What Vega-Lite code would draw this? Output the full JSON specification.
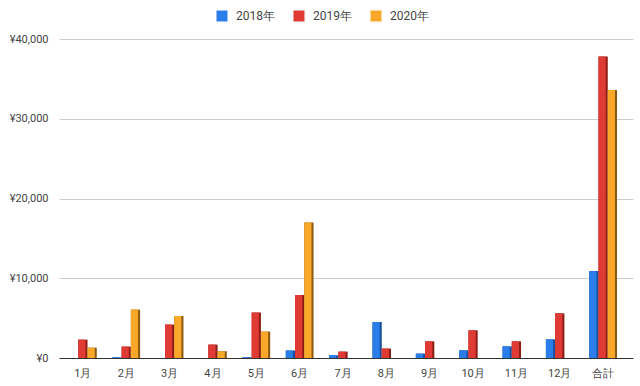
{
  "$schema": "https://vega.github.io/schema/vega-lite/v6.json",
  "width": 574,
  "height": 319,
  "autosize": {"type": "none"},
  "padding": {"left": 59, "top": 39, "right": 7, "bottom": 28},
  "background": "white",
  "config": {
    "font": "Roboto",
    "view": {"stroke": null}
  },
  "data": {
    "values": [
      {"month": "1月", "year": "2019年", "value": 2300},
      {"month": "1月", "year": "2020年", "value": 1300},
      {"month": "2月", "year": "2018年", "value": 80},
      {"month": "2月", "year": "2019年", "value": 1430},
      {"month": "2月", "year": "2020年", "value": 6070},
      {"month": "3月", "year": "2019年", "value": 4190},
      {"month": "3月", "year": "2020年", "value": 5270},
      {"month": "4月", "year": "2019年", "value": 1680},
      {"month": "4月", "year": "2020年", "value": 840},
      {"month": "5月", "year": "2018年", "value": 80},
      {"month": "5月", "year": "2019年", "value": 5690},
      {"month": "5月", "year": "2020年", "value": 3310},
      {"month": "6月", "year": "2018年", "value": 930},
      {"month": "6月", "year": "2019年", "value": 7900},
      {"month": "6月", "year": "2020年", "value": 16980},
      {"month": "7月", "year": "2018年", "value": 340},
      {"month": "7月", "year": "2019年", "value": 800},
      {"month": "8月", "year": "2018年", "value": 4510},
      {"month": "8月", "year": "2019年", "value": 1180},
      {"month": "9月", "year": "2018年", "value": 550},
      {"month": "9月", "year": "2019年", "value": 2090},
      {"month": "10月", "year": "2018年", "value": 960},
      {"month": "10月", "year": "2019年", "value": 3470},
      {"month": "11月", "year": "2018年", "value": 1460},
      {"month": "11月", "year": "2019年", "value": 2090},
      {"month": "12月", "year": "2018年", "value": 2340},
      {"month": "12月", "year": "2019年", "value": 5600},
      {"month": "合計", "year": "2018年", "value": 10900},
      {"month": "合計", "year": "2019年", "value": 37800},
      {"month": "合計", "year": "2020年", "value": 33600}
    ]
  },
  "encoding": {
    "x": {
      "field": "month",
      "type": "nominal",
      "sort": ["1月","2月","3月","4月","5月","6月","7月","8月","9月","10月","11月","12月","合計"],
      "scale": {"paddingInner": 0.36, "paddingOuter": 0.3, "align": 0.385},
      "axis": {
        "title": null,
        "labelAngle": 0,
        "ticks": false,
        "domainColor": "#333333",
        "domainWidth": 1,
        "labelColor": "#444444",
        "labelFontSize": 11,
        "labelPadding": 9,
        "zindex": 1
      }
    },
    "y": {
      "field": "value",
      "type": "quantitative",
      "scale": {"domain": [0, 40000], "nice": false},
      "axis": {
        "title": null,
        "values": [0, 10000, 20000, 30000, 40000],
        "labelExpr": "'¥' + format(datum.value, ',')",
        "gridColor": "#cccccc",
        "domain": false,
        "ticks": false,
        "labelPadding": 11,
        "labelColor": "#444444",
        "labelFontSize": 11
      }
    }
  },
  "layer": [
    {
      "mark": {"type": "bar"},
      "encoding": {
        "xOffset": {
          "field": "year",
          "type": "nominal",
          "scale": {"domain": ["2018年","2019年","2020年"], "paddingInner": 0, "paddingOuter": 0}
        },
        "color": {
          "field": "year",
          "type": "nominal",
          "scale": {"domain": ["2018年","2019年","2020年"], "range": ["#174f9e", "#8e1d16", "#8a5a12"]},
          "legend": null
        }
      }
    },
    {
      "mark": {"type": "bar"},
      "encoding": {
        "xOffset": {
          "field": "year",
          "type": "nominal",
          "scale": {"domain": ["2018年","2019年","2020年"], "paddingInner": 0.22, "paddingOuter": 0.11, "align": 0}
        },
        "color": {
          "field": "year",
          "type": "nominal",
          "scale": {"domain": ["2018年","2019年","2020年"], "range": ["#2b7de9", "#e03a34", "#f9a82a"]},
          "legend": {
            "title": null,
            "orient": "none",
            "legendX": 157,
            "legendY": -29,
            "direction": "horizontal",
            "symbolType": "square",
            "symbolSize": 121,
            "symbolStrokeWidth": 0,
            "labelFontSize": 12,
            "labelColor": "#444444",
            "labelOffset": 8,
            "columnPadding": 18
          }
        }
      }
    }
  ],
  "resolve": {"scale": {"color": "independent", "xOffset": "independent"}}
}
